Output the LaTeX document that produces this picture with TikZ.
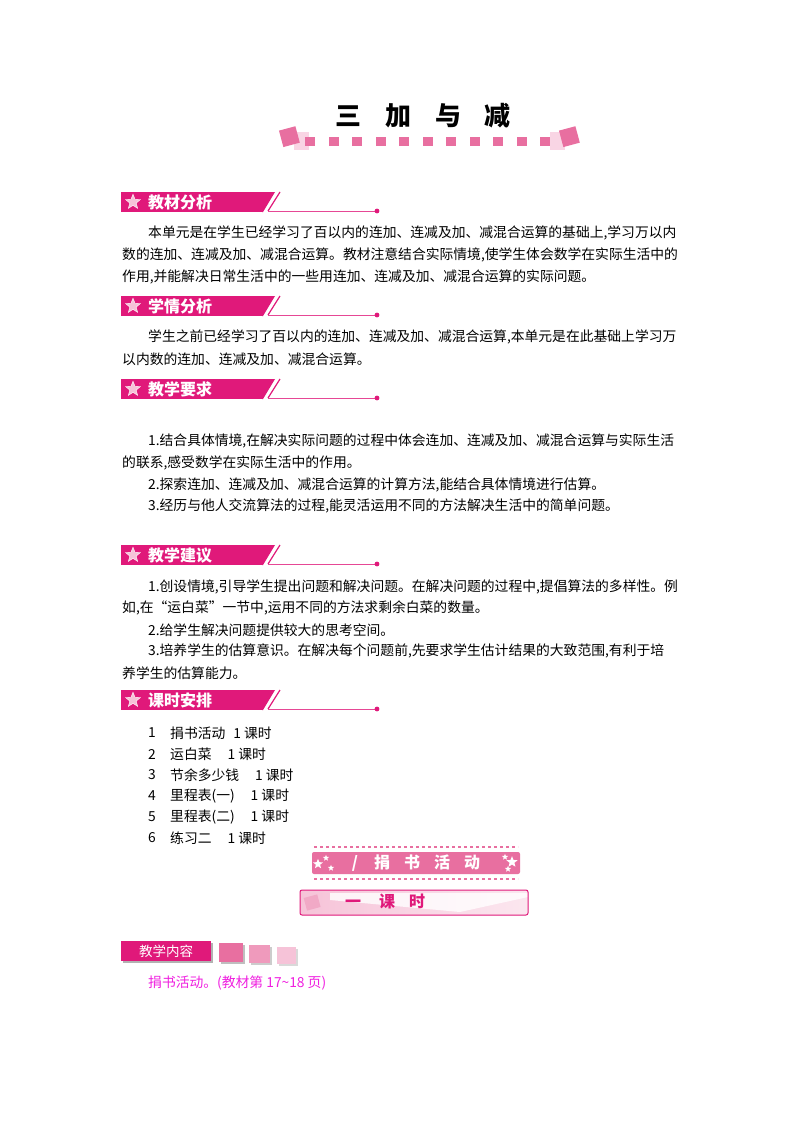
\documentclass[tikz,border=0pt]{standalone}
\usepackage{fontspec}
\setmainfont{Noto Sans CJK SC}
\newfontfamily\cjk{Noto Sans CJK SC}
\usetikzlibrary{shapes.geometric}
\definecolor{mag}{HTML}{E0197A}
\definecolor{pk}{HTML}{E86FA0}
\definecolor{lpk}{HTML}{F6C3D8}
\definecolor{txtmag}{HTML}{F020E0}
\tikzset{
 body/.style={anchor=west,inner sep=0pt,font=\fontsize{13.8}{15}\selectfont},
 hd/.style={anchor=west,inner sep=0pt,text=white,font=\fontsize{16}{17}\bfseries\selectfont},
}
\newcommand{\sechead}[3]{%
 \fill[mag] (121,#1-10) rectangle (262,#1+10);
 \fill[mag] (262,#1-10) -- (275,#1-10) -- (263,#1+10) -- (262,#1+10) -- cycle;
 \draw[mag,line width=1.2pt] (268,#1+9) -- (280,#1-10);
 \node[star,star points=5,star point ratio=2.3,fill=lpk,draw=white,inner sep=2.4pt] at (133,#1) {};
 \node[hd] (#2) at (148,#1) {#3};
 \draw[mag!80,line width=1pt] (268,#1+9) -- (377,#1+9);
 \fill[mag] (377,#1+9) circle (2.4);
}
\begin{document}
\begin{tikzpicture}[x=1pt,y=-1pt]
\useasboundingbox (0,0) rectangle (800,1132);
\fill[white] (0,0) rectangle (800,1132);
% title
\node[inner sep=0pt,font=\fontsize{26}{28}\bfseries\selectfont] (title) at (423,116) {三\hspace{24pt}加\hspace{24pt}与\hspace{24pt}减};
\fill[lpk!70] (294,132) rectangle (309,150);
\fill[pk,rotate around={15:(290,137)}] (281,128) rectangle (298,145);
\foreach \i in {0,...,10} \fill[pk] (305+\i*23.5,137) rectangle (315+\i*23.5,146);
\fill[lpk!70] (550,132) rectangle (565,150);
\fill[pk,rotate around={15:(570,137)}] (561,128) rectangle (578,145);
% section 1
\sechead{202}{h1}{教材分析}
\node[body] (p1a) at (148,233) {本单元是在学生已经学习了百以内的连加、连减及加、减混合运算的基础上,学习万以内};
\node[body] (p1b) at (122,255) {数的连加、连减及加、减混合运算。教材注意结合实际情境,使学生体会数学在实际生活中的};
\node[body] (p1c) at (122,277) {作用,并能解决日常生活中的一些用连加、连减及加、减混合运算的实际问题。};
\sechead{306}{h2}{学情分析}
\node[body] (p2a) at (148,337) {学生之前已经学习了百以内的连加、连减及加、减混合运算,本单元是在此基础上学习万};
\node[body] (p2b) at (122,359) {以内数的连加、连减及加、减混合运算。};
\sechead{389}{h3}{教学要求}
\node[body] (p3a) at (148,441) {1.结合具体情境,在解决实际问题的过程中体会连加、连减及加、减混合运算与实际生活};
\node[body] (p3b) at (122,463) {的联系,感受数学在实际生活中的作用。};
\node[body] (p3c) at (148,485) {2.探索连加、连减及加、减混合运算的计算方法,能结合具体情境进行估算。};
\node[body] (p3d) at (148,506) {3.经历与他人交流算法的过程,能灵活运用不同的方法解决生活中的简单问题。};
\sechead{555}{h4}{教学建议}
\node[body] (p4a) at (148,587) {1.创设情境,引导学生提出问题和解决问题。在解决问题的过程中,提倡算法的多样性。例};
\node[body] (p4b) at (122,608) {如,在“运白菜”一节中,运用不同的方法求剩余白菜的数量。};
\node[body] (p4c) at (148,630) {2.给学生解决问题提供较大的思考空间。};
\node[body] (p4d) at (148,651) {3.培养学生的估算意识。在解决每个问题前,先要求学生估计结果的大致范围,有利于培};
\node[body] (p4e) at (122,673) {养学生的估算能力。};
\sechead{700}{h5}{课时安排}
\foreach \n/\y/\t in {1/733/{捐书活动\hspace{8pt}1 课时},2/754/{运白菜\hspace{16pt}1 课时},3/775/{节余多少钱\hspace{16pt}1 课时},4/796/{里程表(一)\hspace{16pt}1 课时},5/817/{里程表(二)\hspace{16pt}1 课时},6/838/{练习二\hspace{16pt}1 课时}}{
 \node[body] (n\n) at (148,\y) {\n};
 \node[body] (t\n) at (170,\y) {\t};
}
% banner 1
\fill[pk,rounded corners=2pt] (312,852) rectangle (520,874);
\draw[pk,dashed,line width=1.2pt] (314,847) -- (518,847);
\draw[pk,dashed,line width=1.2pt] (314,879) -- (518,879);
\node[inner sep=0pt,text=white,font=\fontsize{16}{17}\bfseries\itshape\selectfont] (b1) at (416,863) {/\hspace{16pt}捐\hspace{14pt}书\hspace{14pt}活\hspace{14pt}动};
\foreach \p/\s in {(318,864)/1.6pt,(326,858)/1pt,(331,868)/1pt,(505,857)/1pt,(512,862)/1.8pt,(508,869)/1pt}
  \node[star,star points=5,star point ratio=2.3,fill=white,inner sep=\s] at \p {};
% banner 2
\shade[left color=lpk,right color=lpk!40,rounded corners=2pt] (300,890) rectangle (528,915);
\fill[white,opacity=0.8] (330,893) -- (528,893) -- (528,897) -- (460,912) -- (330,900) -- cycle;
\draw[mag,line width=1pt,rounded corners=2pt] (300,890) rectangle (528,915);
\fill[pk!60,rotate around={15:(312,902)}] (305,896) rectangle (319,909);
\node[inner sep=0pt,text=mag,font=\fontsize{16}{17}\bfseries\selectfont] (b2) at (385,901) {一\hspace{18pt}课\hspace{14pt}时};
% teaching content
\fill[gray!60] (123,943) rectangle (213,963);
\fill[mag] (121,941) rectangle (211,961);
\node[inner sep=0pt,text=white,font=\fontsize{13.5}{14}\selectfont] (h6) at (166,951) {教学内容};
\fill[gray!50] (221,945) rectangle (245,964);
\fill[pk] (219,943) rectangle (243,962);
\fill[gray!40] (251,947) rectangle (272,965);
\fill[pk!70] (249,945) rectangle (270,963);
\fill[gray!30] (279,949) rectangle (298,966);
\fill[lpk] (277,947) rectangle (296,964);
\node[body,text=txtmag] (p6) at (148,983) {捐书活动。(教材第 17\textasciitilde18 页)};
\end{tikzpicture}
\end{document}
